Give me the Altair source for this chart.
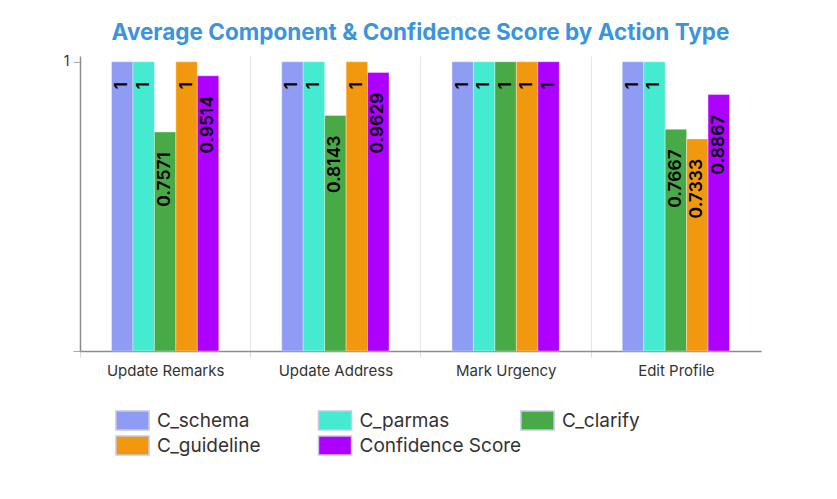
import altair as alt
import pandas as pd

actions = ["Update Remarks", "Update Address", "Mark Urgency", "Edit Profile"]
series = ["C_schema", "C_parmas", "C_clarify", "C_guideline", "Confidence Score"]
c_schema = [1, 1, 1, 1]
c_parmas = [1, 1, 1, 1]
c_clarify = [0.7571, 0.8143, 1, 0.7667]
c_guideline = [1, 1, 1, 0.7333]
confidence = [0.9514, 0.9629, 1, 0.8867]
colors = ["#8f9cf4", "#45ebd0", "#47aa47", "#f2980f", "#ad00ff"]

rows = []
for s, vals in zip(series, [c_schema, c_parmas, c_clarify, c_guideline, confidence]):
    for a, v in zip(actions, vals):
        rows.append({"action": a, "series": s, "value": v, "label": f"{v:g}"})
df = pd.DataFrame(rows)

base = alt.Chart(df).encode(
    x=alt.X(
        "action:N", sort=actions,
        scale=alt.Scale(paddingInner=0.37, paddingOuter=0.185),
        axis=alt.Axis(title=None, labelAngle=0, labelAlign="center", bandPosition=0,
                      tickOffset=-31.5, labelOffset=31.5,
                      grid=True, gridColor="#e6e6e6", tickColor="#dcdcdc", tickSize=6,
                      domainColor="#8c8c8c", domainWidth=1.5, labelFontSize=15,
                      labelColor="#333333", labelPadding=6, labelFont="Inter"),
    ),
    xOffset=alt.XOffset("series:N", sort=series, scale=alt.Scale(paddingInner=0, paddingOuter=0)),
    y=alt.Y(
        "value:Q", scale=alt.Scale(domain=[0, 1.02], nice=False),
        axis=alt.Axis(title=None, values=[0, 1], labelExpr="datum.value == 1 ? '1' : ''",
                      grid=False, tickColor="#aaaaaa", tickSize=7, domainColor="#8c8c8c",
                      domainWidth=1.5, labelFontSize=14, labelColor="#333333",
                      labelPadding=4, labelFont="Inter"),
    ),
)

bars = base.mark_bar(stroke="white", strokeOpacity=0.35, strokeWidth=1).encode(
    color=alt.Color(
        "series:N", sort=series,
        scale=alt.Scale(domain=series, range=colors),
        legend=alt.Legend(
            title=None, orient="none", legendX=42, legendY=354, columns=3,
            direction="horizontal", gridAlign="all", columnPadding=-4.5, rowPadding=0,
            padding=0, symbolType="M-1.74,-1H1.74V1H-1.74Z", symbolSize=361,
            symbolStrokeWidth=1.5, symbolOpacity=1, symbolStrokeColor="#c8c8e6",
            labelFontSize=19, labelColor="#333333", labelFont="Inter",
            labelOffset=14, labelLimit=300,
        ),
    )
)

text = base.mark_text(angle=270, align="right", baseline="middle", dx=-20,
                      fontSize=17.5, fontWeight=600, font="Inter", color="black").encode(text="label:N")

chart = (bars + text).properties(
    width=681, height=295,
    padding={"left": 72, "top": 48, "right": 60, "bottom": 130},
    autosize=alt.AutoSizeParams(type="none"),
    title=alt.Title("Average Component & Confidence Score by Action Type",
                    fontSize=22.5, fontWeight="bold", color="#3b94de", font="Inter",
                    anchor="middle", offset=10),
).configure_view(stroke=None)

chart.save("out.html", embed_options={"renderer": "svg", "actions": False})
